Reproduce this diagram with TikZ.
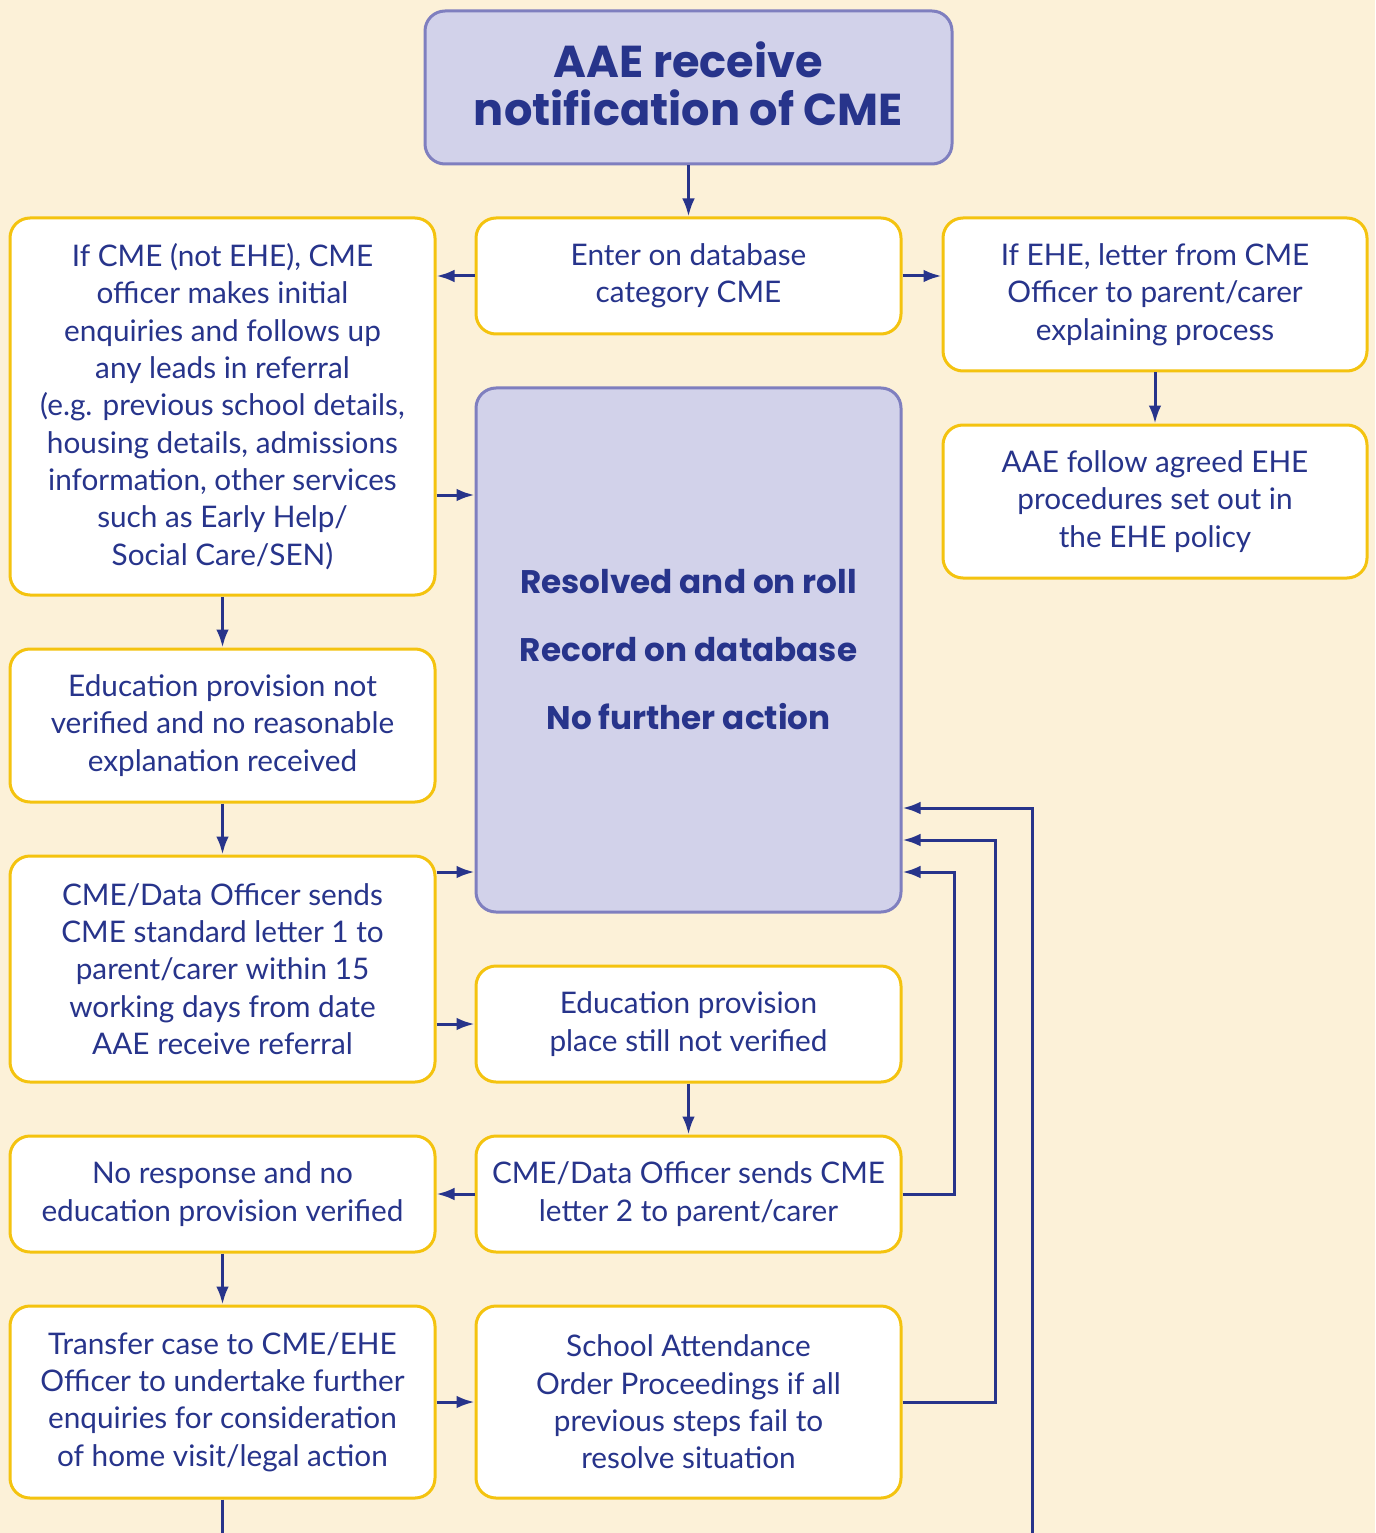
\documentclass[tikz,border=0pt]{standalone}
\usepackage{fontspec}
\setmainfont{Lato}
\newfontfamily\headfont{Poppins}
\usetikzlibrary{positioning,arrows.meta}
\definecolor{cream}{HTML}{FCF1D8}
\definecolor{gold}{HTML}{F4C30F}
\definecolor{ink}{HTML}{27348B}
\definecolor{lav}{HTML}{D2D2EA}
\definecolor{lavedge}{HTML}{7F7FBF}
\newcommand\boxfont{\fontsize{22.3}{28}\selectfont}
\newcommand\headsize{\headfont\bfseries\fontsize{33.5}{36}\selectfont}
\newcommand\bigsize{\headfont\bfseries\fontsize{24.5}{51}\selectfont}
\tikzset{
  ybox/.style={draw=gold, line width=2.25pt, fill=white, rounded corners=15pt,
    align=center, text=ink, font=\boxfont, inner sep=0pt, minimum width=318.75pt},
  pbox/.style={ybox, draw=lavedge, fill=lav},
  arr/.style={-{Latex[length=13.5pt,width=9.5pt]}, draw=ink, line width=2.25pt},
  line/.style={draw=ink, line width=2.25pt}
}
\begin{document}
\begin{tikzpicture}[x=0.75pt,y=-0.75pt]
  \fill[cream] (0,0) rectangle (1375,1533);
  \useasboundingbox (0,0) rectangle (1375,1533);
  % top
  \node[pbox, minimum width=395.25pt, minimum height=114.75pt] (aae) at (688.5,87.5) {};
  \node[text=ink, align=center, font=\headsize, yshift=3pt] (aaetext) at (aae) {AAE receive\\notification of CME};
  \node[ybox, minimum height=87pt] (enter) at (688.5,276) {Enter on database\\category CME};
  \node[ybox, minimum height=282.75pt] (cme) at (222.5,406.5)
    {If CME (not EHE), CME\\officer makes initial\\enquiries and follows up\\any leads in referral\\(e.g. previous school details,\\housing details, admissions\\information, other services\\such as Early Help/\\Social Care/SEN)};
  \node[ybox, minimum width=318pt, minimum height=114.75pt] (ehe) at (1155,294.5)
    {If EHE, letter from CME\\Officer to parent/carer\\explaining process};
  \node[ybox, minimum width=318pt, minimum height=114.75pt] (ehepol) at (1155,501.5)
    {AAE follow agreed EHE\\procedures set out in\\the EHE policy};
  % middle
  \node[pbox, minimum height=393pt, font=\bigsize] (big) at (688.5,650)
    {Resolved and on roll\\Record on database\\No further action};
  \node[ybox, minimum height=114.75pt] (notver) at (222.5,725.5)
    {Education provision not\\verified and no reasonable\\explanation received};
  \node[ybox, minimum height=169.5pt] (letter1) at (222.5,969)
    {CME/Data Officer sends\\CME standard letter 1 to\\parent/carer within 15\\working days from date\\AAE receive referral};
  \node[ybox, minimum height=87pt] (still) at (688.5,1024)
    {Education provision\\place still not verified};
  % bottom
  \node[ybox, minimum height=87pt] (letter2) at (688.5,1194)
    {CME/Data Officer sends CME\\letter 2 to parent/carer};
  \node[ybox, minimum height=87pt] (noresp) at (222.5,1194)
    {No response and no\\education provision verified};
  \node[ybox, minimum height=144pt] (transfer) at (222.5,1402)
    {Transfer case to CME/EHE\\Officer to undertake further\\enquiries for consideration\\of home visit/legal action};
  \node[ybox, minimum height=144pt] (sao) at (688.5,1402)
    {School Attendance\\Order Proceedings if all\\previous steps fail to\\resolve situation};
  \coordinate (out1) at (1032,1533);
  \coordinate (out2) at (222.5,1533);
  % connectors
  \draw[arr] (aae) -- (enter);
  \draw[arr] (enter.west) -- (cme.east |- enter.west);
  \draw[arr] (enter.east) -- (ehe.west |- enter.east);
  \draw[arr] (ehe) -- (ehepol);
  \draw[arr] (cme.east |- 0,495) -- (big.west |- 0,495);
  \draw[arr] (cme) -- (notver);
  \draw[arr] (notver) -- (letter1);
  \draw[arr] (letter1.east |- 0,872) -- (big.west |- 0,872);
  \draw[arr] (letter1.east |- still.west) -- (still.west);
  \draw[arr] (still) -- (letter2);
  \draw[arr] (letter2.west) -- (noresp.east);
  \draw[arr] (letter2.east) -| (954,872) -- (big.east |- 0,872);
  \draw[arr] (sao.east) -| (995,840) -- (big.east |- 0,840);
  \draw[arr] (out1) |- (big.east |- 0,808);
  \draw[arr] (noresp) -- (transfer);
  \draw[arr] (transfer.east) -- (sao.west);
  \draw[line] (transfer.south) -- (out2);
\end{tikzpicture}
\end{document}
